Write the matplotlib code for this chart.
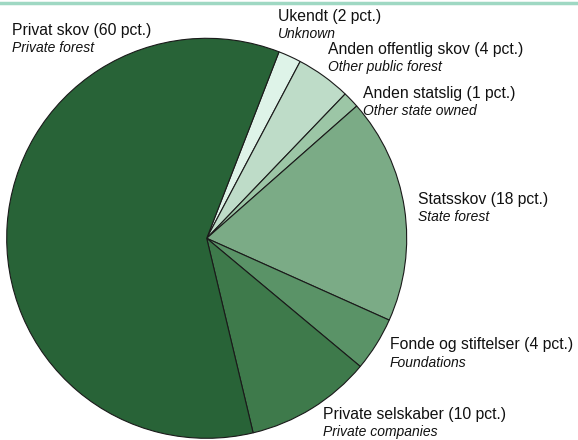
import matplotlib
matplotlib.use("Agg")
import matplotlib.pyplot as plt
from matplotlib.lines import Line2D

plt.rcParams['font.family'] = ['Liberation Sans', 'DejaVu Sans']

# Data (clockwise from top)
labels_da = ["Ukendt (2 pct.)", "Anden offentlig skov (4 pct.)", "Anden statslig (1 pct.)",
             "Statsskov (18 pct.)", "Fonde og stiftelser (4 pct.)",
             "Private selskaber (10 pct.)", "Privat skov (60 pct.)"]
labels_en = ["Unknown", "Other public forest", "Other state owned", "State forest",
             "Foundations", "Private companies", "Private forest"]
values = [1.85, 4.43, 1.33, 18.2, 4.36, 10.2, 59.6]
colors = ["#def3e8", "#bedcc8", "#9cc6a6", "#7bab86", "#5a9367", "#3e7a4b", "#286337"]

W, H = 578, 440
fig = plt.figure(figsize=(W / 100, H / 100), dpi=100)
ax = fig.add_axes([0, 0, 1, 1])

cx, cy, r = 206.7, H - 238.3, 200
ax.pie(values, colors=colors, startangle=68.8, counterclock=False,
       center=(cx, cy), radius=r, frame=True,
       wedgeprops=dict(edgecolor="#1a1a1a", linewidth=0.8))
ax.set_xlim(0, W)
ax.set_ylim(0, H)
ax.set_aspect('equal')
ax.axis('off')

# label positions (pixel coords: x, y of main line center)
pos = [(278, 16), (328, 49), (363, 93), (418, 199), (390, 345), (323, 414), (12, 30)]
for (x, y), da, en in zip(pos, labels_da, labels_en):
    ax.text(x, H - y, da, fontsize=11.3, ha='left', va='center', color='#111111')
    ax.text(x, H - (y + 18), en, fontsize=10, style='italic', ha='left', va='center', color='#111111')

# top teal line
fig.add_artist(Line2D([0, 1], [1 - 3 / H, 1 - 3 / H], transform=fig.transFigure,
                      color="#9fd8c3", linewidth=2.5))

fig.savefig("out.png", dpi=100)
